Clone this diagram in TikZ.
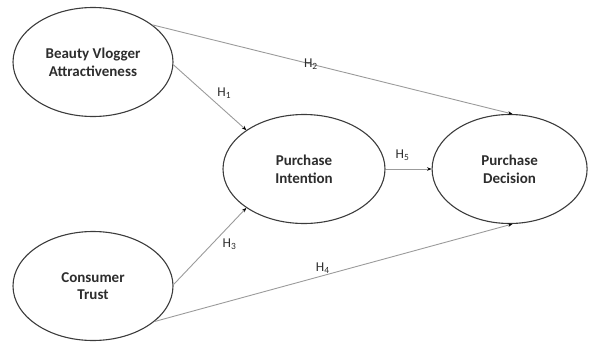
\documentclass[tikz,border=0pt]{standalone}
\usepackage{fontspec}
\setmainfont{Carlito}
\usepackage{xcolor}
\usetikzlibrary{shapes.geometric, arrows.meta, positioning}
\definecolor{ovalgray}{RGB}{60, 60, 60}
\definecolor{linkgray}{RGB}{155, 155, 155}
\definecolor{labelgray}{RGB}{45, 45, 45}

\begin{document}
\begin{tikzpicture}[
    x=1pt, y=-1pt,
    construct/.style={ellipse, draw=ovalgray, line width=1.1pt, minimum width=160pt, minimum height=109pt, inner sep=0pt, align=center, text=labelgray, font=\fontsize{15}{17.7}\selectfont\bfseries},
    link/.style={-{Stealth[length=4.5pt, width=3.5pt, color=black]}, draw=linkgray, line width=0.9pt},
    hyp/.style={font=\fontsize{13.5}{15}\selectfont, inner sep=1.5pt, text=labelgray}
]
\useasboundingbox (0,0) rectangle (589,343);

\node[construct] (bva) at (93,62) {Beauty Vlogger\\Attractiveness};
\node[construct] (ct) at (93,286) {Consumer\\Trust};
\node[construct, minimum width=162pt] (pi) at (304,169) {Purchase\\Intention};
\node[construct, minimum width=155pt, right=46pt of pi] (pd) {Purchase\\Decision};

\draw[link] (bva.32) -- node[hyp, pos=.44] {H\textsubscript{2}} (pd.87);
\draw[link] (bva.-2) -- node[hyp, pos=.55, anchor=south west, xshift=2pt] {H\textsubscript{1}} (pi.146);
\draw[link] (ct.1) -- node[hyp, pos=.62, anchor=north west, xshift=2pt] {H\textsubscript{3}} (pi.214);
\draw[link] (ct.-30) -- node[hyp, pos=.47, above] {H\textsubscript{4}} (pd.-87);
\draw[link] (pi) -- node[hyp, pos=.37, above=6pt] {H\textsubscript{5}} (pd);

\end{tikzpicture}
\end{document}
